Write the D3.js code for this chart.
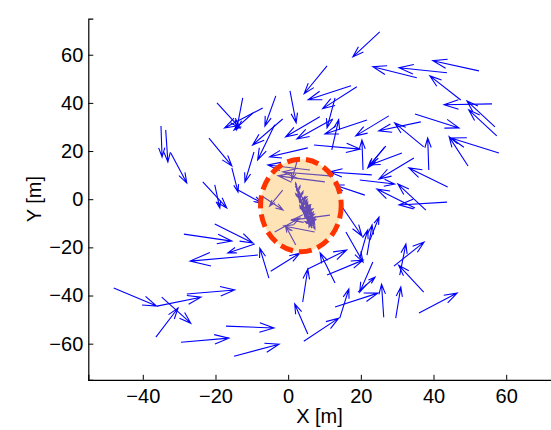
<!DOCTYPE html>
<html>
<head>
<meta charset="utf-8">
<script src="https://d3js.org/d3.v7.min.js"></script>
<style>
  html, body { margin: 0; padding: 0; background: #fff; }
  svg { display: block; }
  text { font-family: "Liberation Sans", Arial, Helvetica, sans-serif; }
</style>
</head>
<body>
<svg id="chart" width="551" height="430"></svg>
<script>
// Velocity field: arrow tails (x, y) and displacement (u, v), all in metres
const xs = [25.2, 52.5, 43.7, 35.4, 47.5, 56.1, 56.9, 57.4, 34.9, 36.5,
            58.0, 49.5, 38.7, 37.3, 43.9, 37.9, 43.7, 34.9, 26.9, 31.3,
            34.6, 19.7, 10.7, 17.3, 18.9, 0.5, -3.4, -12.5, -19.6, -7.0,
            -9.7, 12.9, 8.7, 12.3, 21.7, 27.7, -1.5, -3.7, 12.0, 7.1,
            20.6, 5.4, 26.6, -35.0, -33.7, -32.3, -21.8, -15.5, -13.8, -9.4,
            -23.5, -20.2, -20.2, -28.7, -9.2, -8.3, -48.0, -36.1, -27.9, -34.8,
            -36.4, -29.5, -17.1, -14.9, 5.4, 4.3, 14.2, -5.3, -4.8, 4.0,
            5.4, 12.9, 10.7, 15.9, 12.9, 19.2, 23.3, 26.3, 29.6, 36.0,
            37.3, 29.1, 30.7, 21.7, 22.5, 19.7, 23.0, 21.1, 14.5, 12.3,
            10.1, 2.7, -7.2, 7.3, 2.1, -3.7, 6.0, -1.5, 11.5];
const ys = [69.5, 53.3, 52.5, 50.4, 41.2, 39.6, 30.0, 26.3, 35.4, 32.1,
            19.2, 13.8, 12.1, 21.7, 5.1, -4.5, -1.2, -3.7, 22.1, 19.2,
            17.1, 8.0, 55.4, 47.1, 46.7, 45.0, 42.9, 42.1, 40.0, 37.9,
            35.8, 42.1, 34.2, 33.3, 32.9, 34.6, 33.3, 30.9, 20.5, 22.5,
            12.1, 21.3, 21.7, 30.4, 28.8, 19.2, 25.4, 13.0, 3.8, 19.6,
            7.2, 5.9, -10.3, -14.5, -18.6, -23.2, -36.9, -44.4, -39.4, -40.7,
            -57.3, -59.4, -52.7, -65.2, -56.0, -59.0, -49.4, -32.8, -29.9, -42.7,
            -29.0, -34.8, -31.5, -13.6, -44.8, -38.6, -26.1, -49.0, -49.4, -47.3,
            -38.6, -27.8, -31.5, -23.2, -17.0, -24.4, 10.1, 1.7, -2.4, 9.6,
            7.2, 17.1, 1.3, -13.6, -19.0, -13.6, 12.1, 3.8, -6.6];
const us = [-7.4, -12.7, -13.2, -12.1, -8.5, -13.2, -7.7, -7.7, 12.1, -11.6,
            -13.2, -5.2, -0.3, -8.0, -10.7, -7.7, -13.2, -10.5, -4.7, -8.8,
            -9.6, 9.6, -6.3, -11.8, -9.4, 1.7, -3.0, -1.7, 6.3, -10.5,
            -5.2, -2.2, -9.4, -9.9, -11.6, -9.1, -8.3, -4.7, 1.9, 12.7,
            -0.3, -10.5, -4.7, 0.3, 0.6, 4.4, 6.3, 1.7, 6.6, -2.5,
            6.6, 1.4, 10.5, 13.2, -7.4, -18.7, 11.8, 12.1, 13.2, 8.0,
            6.1, 13.2, 13.2, 12.4, -3.6, 9.6, 2.5, -2.5, 8.0, 1.4,
            10.7, -4.1, 9.9, 4.7, 11.8, 4.7, -3.6, -0.6, 1.4, 10.5,
            -6.9, 8.3, 1.7, 1.4, 2.5, 2.2, -11.6, -8.3, 5.8, -13.8,
            -12.9, -1.7, 5.8, -8.5, -2.8, 6.9, -11.6, -3.6, -10.5];
const vs = [-10.4, 4.2, 2.1, 4.6, 10.0, -0.4, 10.8, 10.8, -5.8, -3.7,
            6.2, 12.1, 13.3, 10.0, 7.9, 10.8, -1.2, 7.9, -8.3, -5.0,
            -8.7, -1.7, -11.6, -5.8, -9.1, -13.3, -12.5, -13.3, -10.4, -8.3,
            -7.1, -12.5, -8.3, -8.3, -5.8, -8.3, -10.8, -14.6, 12.5, -1.7,
            12.5, -3.7, -8.7, -12.9, -13.3, -12.5, -11.6, -10.0, -5.4, -12.5,
            -10.8, -9.6, -7.9, -2.9, -3.7, -2.5, -7.5, 3.7, 1.7, -10.8,
            12.1, 1.7, -0.8, 5.0, 12.5, 9.6, 12.1, 12.5, 7.5, 13.7,
            7.9, 12.5, 6.2, -12.5, 5.8, 6.2, -12.5, 13.7, 12.9, 8.3,
            11.2, 10.0, 12.9, 12.5, 9.6, 11.6, 1.2, 4.2, -12.9, 1.7,
            2.5, -9.1, -5.8, 2.5, 7.9, 5.8, 2.1, -6.7, -2.1];

// Slow-moving cluster near the centre of the region
const coreX = [2.4, 2.7, 3.0, 3.3, 3.6, 3.9, 4.2, 4.5, 4.8, 5.1, 5.4,
               5.7, 6.0, 6.3, 6.5, 5.0, 5.6, 4.1, 6.2, 3.2, 4.6, 5.9,
               2.0, 2.6, 3.4, 3.8, 4.3, 4.7, 5.2, 5.5, 5.8, 6.2,
               6.4, 6.7, 3.9, 4.4, 5.0, 5.6, 3.0, 6.8, 7.2, 6.6];
const coreY = [4.8, 3.2, 1.8, 0.4, -1.0, -2.3, -3.5, -4.7, -5.9, -7.0, -8.1,
               -9.2, -10.3, -11.3, -12.0, -5.5, -8.6, -2.8, -10.8, 0.0, -6.5, -9.8,
               5.5, 3.8, 2.2, 0.8, -0.6, -2.0, -3.2, -4.5, -5.8, -7.0,
               -8.3, -9.5, -4.0, -6.0, -8.0, -10.0, -1.0, -11.0, -9.0, -6.5];
const coreU = [-0.3, 0.5, -0.6, 0.7, -0.8, 0.6, -0.9, 0.8, -1.0, 0.9, -1.1,
               0.7, -0.9, 0.5, -0.4, 1.0, 1.2, 1.0, 1.1, -1.0, -1.3, -1.4,
               0.8, 1.0, -0.2, 1.4, -0.3, 1.3, -0.5, 1.2, -0.4, 1.0,
               -0.6, 0.6, 2.0, 2.2, 2.0, 1.8, 2.0, -2.0, -2.2, -2.0];
const coreV = [1.6, 2.0, 2.3, 2.5, 2.7, 2.9, 3.0, 3.2, 3.3, 3.4, 3.5,
               3.6, 3.5, 3.2, 2.8, 2.6, 2.9, 2.4, 3.0, 2.0, 3.6, 3.4,
               -2.0, -2.4, -3.0, -2.8, -3.2, -3.0, -3.4, -3.3, -3.5, -3.2,
               -3.0, -2.6, 1.5, 1.8, 1.6, 1.4, 1.8, 1.6, 1.8, 1.6];

// Uncertainty ellipse: centre and semi-axes (m)
const ellipseCenter = [3.5, -2.6];
const ellipseRadii = [11.1, 19.2];

// Axis settings
const xDomain = [-55, 75];
const yDomain = [-75, 75];
const xTicks = [-40, -20, 0, 20, 40, 60];
const yTicks = [-60, -40, -20, 0, 20, 40, 60];
const xLabel = "X [m]";
const yLabel = "Y [m]";

const svg = d3.select("#chart");
const x = d3.scaleLinear().domain(xDomain).range([88.3, 560.7]);
const y = d3.scaleLinear().domain(yDomain).range([379.8, 18.6]);

// Quiver-style arrow: shaft plus two barbs at the tip
function arrowPath(x0, y0, x1, y1) {
  const dx = x1 - x0, dy = y1 - y0;
  const a = 0.3, b = 0.33;
  const b1x = x1 - a * (dx + b * dy), b1y = y1 - a * (dy - b * dx);
  const b2x = x1 - a * (dx - b * dy), b2y = y1 - a * (dy + b * dx);
  return `M${x0},${y0}L${x1},${y1}M${b1x},${b1y}L${x1},${y1}L${b2x},${b2y}`;
}

const field = xs.map((d, i) => ({x: d, y: ys[i], u: us[i], v: vs[i]}));
const core = coreX.map((d, i) => ({x: d, y: coreY[i], u: coreU[i], v: coreV[i]}));

const plot = svg.append("g");

plot.append("g").selectAll("path")
  .data(field)
  .join("path")
  .attr("d", d => arrowPath(x(d.x), y(d.y), x(d.x + d.u), y(d.y + d.v)))
  .attr("fill", "none")
  .attr("stroke", "#0000ff")
  .attr("stroke-width", 1.1);

plot.append("g").selectAll("path")
  .data(core)
  .join("path")
  .attr("d", d => arrowPath(x(d.x), y(d.y), x(d.x + d.u), y(d.y + d.v)))
  .attr("fill", "none")
  .attr("stroke", "#0000ff")
  .attr("stroke-width", 1.6);

// Translucent ellipse over the field
const ecx = x(ellipseCenter[0]), ecy = y(ellipseCenter[1]);
const erx = x(ellipseCenter[0] + ellipseRadii[0]) - ecx;
const ery = ecy - y(ellipseCenter[1] + ellipseRadii[1]);
plot.append("ellipse")
  .attr("cx", ecx).attr("cy", ecy)
  .attr("rx", erx).attr("ry", ery)
  .attr("fill", "rgb(250,185,70)")
  .attr("fill-opacity", 0.4)
  .attr("stroke", "none");
plot.append("ellipse")
  .attr("cx", ecx).attr("cy", ecy)
  .attr("rx", erx).attr("ry", ery)
  .attr("fill", "none")
  .attr("stroke", "#ff3300")
  .attr("stroke-width", 5)
  .attr("stroke-dasharray", "13,6");

// Axes (ticks pointing inward, left and bottom only)
const xAxis = d3.axisBottom(x).tickValues(xTicks).tickSize(-5).tickPadding(9)
  .tickFormat(d3.format("d"));
const yAxis = d3.axisLeft(y).tickValues(yTicks).tickSize(-5).tickPadding(5)
  .tickFormat(d3.format("d"));

const gx = svg.append("g").attr("transform", `translate(0,${y(yDomain[0])})`).call(xAxis);
const gy = svg.append("g").attr("transform", `translate(${x(xDomain[0])},0)`).call(yAxis);

[gx, gy].forEach(g => {
  g.select(".domain").attr("stroke", "#000").attr("stroke-width", 1.2);
  g.selectAll(".tick line").attr("stroke", "#000").attr("stroke-width", 1);
  g.selectAll(".tick text").attr("fill", "#000")
    .style("font-size", "20px")
    .style("font-family", '"Liberation Sans", Arial, Helvetica, sans-serif');
});

svg.append("text")
  .attr("x", 319.5).attr("y", 423)
  .attr("text-anchor", "middle")
  .style("font-size", "20px")
  .attr("fill", "#000")
  .text(xLabel);

svg.append("text")
  .attr("transform", `translate(41,${(y(yDomain[0]) + y(yDomain[1])) / 2}) rotate(-90)`)
  .attr("text-anchor", "middle")
  .style("font-size", "20px")
  .attr("fill", "#000")
  .text(yLabel);
</script>
</body>
</html>
